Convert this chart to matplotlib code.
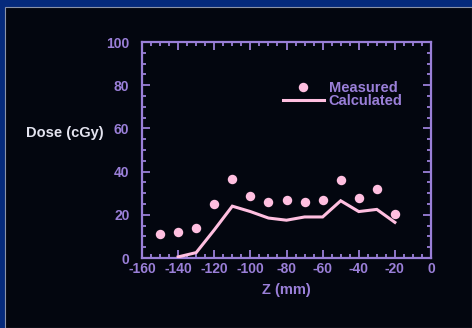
import matplotlib
matplotlib.use("Agg")
import matplotlib.pyplot as plt
from matplotlib.patches import Rectangle
from matplotlib.ticker import MultipleLocator

# Depth dose along Z
measured_z = [-150, -140, -130, -120, -110, -100, -90, -80, -70, -60, -50, -40, -30, -20]
measured_dose = [11, 12, 14, 25, 36.5, 28.5, 26, 27, 26, 27, 36, 28, 32, 20.5]

calc_z = [-140, -130, -120, -110, -100, -90, -80, -70, -60, -50, -40, -30, -20]
calc_dose = [0.5, 2.5, 13, 24, 21.5, 18.5, 17.5, 19, 19, 26.5, 21.5, 22.5, 16.5]

x_ticks = [-160, -140, -120, -100, -80, -60, -40, -20, 0]
y_ticks = [0, 20, 40, 60, 80, 100]

BLUE = "#052a7c"
PANEL = "#03060f"
PURPLE = "#9a7fd8"
PINK = "#ffbfe0"
WHITE = "#e4e4f0"

plt.rcParams["font.family"] = ["Liberation Sans", "DejaVu Sans"]
plt.rcParams["font.weight"] = "bold"
plt.rcParams["axes.unicode_minus"] = False

fig = plt.figure(figsize=(4.72, 3.28), dpi=100)
fig.patch.set_facecolor(BLUE)
fig.patches.append(Rectangle((5 / 472, 0), 1 - 5 / 472, 1 - 7 / 328,
                             transform=fig.transFigure, facecolor=PANEL,
                             edgecolor="#8a93a8", linewidth=0.8, zorder=-10))

ax = fig.add_axes([142 / 472, 1 - 258 / 328, (431 - 142) / 472, (258 - 42) / 328])
ax.set_zorder(1)
ax.patch.set_alpha(0)

ax.plot(calc_z, calc_dose, color=PINK, linewidth=2.2, label="Calculated",
        solid_joinstyle="miter", zorder=3)
ax.plot(measured_z, measured_dose, linestyle="none", marker="o", markersize=6.8,
        color=PINK, markeredgewidth=0, label="Measured", zorder=3)

ax.set_xlim(-160, 0)
ax.set_ylim(0, 100)
ax.set_xticks(x_ticks)
ax.set_yticks(y_ticks)
ax.xaxis.set_minor_locator(MultipleLocator(5))
ax.yaxis.set_minor_locator(MultipleLocator(5))

for s in ax.spines.values():
    s.set_color(PURPLE)
    s.set_linewidth(1.6)

ax.tick_params(which="both", direction="in", top=True, right=True,
               color=PURPLE, width=1.3)
ax.tick_params(which="major", length=6)
ax.tick_params(which="minor", length=3)
ax.tick_params(axis="x", which="major", labelsize=10, labelcolor=PURPLE, pad=3)
ax.tick_params(axis="y", which="major", labelsize=10, labelcolor=PURPLE, pad=9)

ax.set_xlabel("Z (mm)", color=PURPLE, fontsize=10.5, fontweight="bold", labelpad=5)
fig.text(65 / 472, 1 - 133 / 328, "Dose (cGy)", color=WHITE, fontsize=10.5,
         fontweight="bold", ha="center", va="center")

handles, labels = ax.get_legend_handles_labels()
leg = ax.legend(handles[::-1], labels[::-1], loc="upper left",
                bbox_to_anchor=(0.462, 0.852), frameon=False, fontsize=10.5,
                labelcolor=PURPLE, handlelength=2.8, handletextpad=0.35,
                labelspacing=-0.1, borderpad=0)
for t in leg.get_texts():
    t.set_fontweight("bold")

fig.savefig("out.png", dpi=100, facecolor=fig.get_facecolor())
